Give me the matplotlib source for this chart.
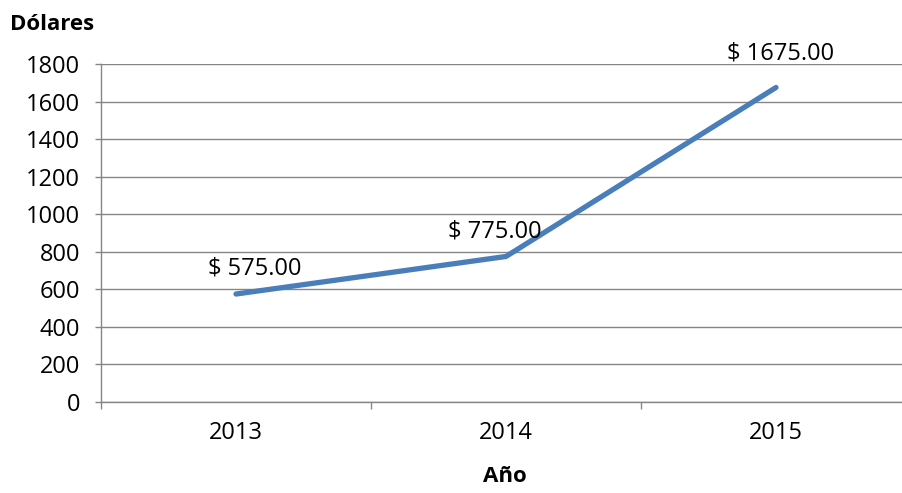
"""Line chart: Dólares por año"""
import numpy as np
import matplotlib
matplotlib.use('Agg')
import matplotlib.pyplot as plt

# Data
years = ['2013', '2014', '2015']
dollars = [575.0, 775.0, 1675.0]
y_ticks = [0, 200, 400, 600, 800, 1000, 1200, 1400, 1600, 1800]
# label offsets in pixels (dx, dy) relative to each point
label_offsets = [(19, 26), (-11, 25), (5, 34)]

plt.rcParams['font.family'] = ['Open Sans', 'DejaVu Sans']
grid_color = '#868686'
line_color = '#4A7EBB'
fs = 17

fig = plt.figure(figsize=(9.03, 4.93), dpi=100)
ax = fig.add_axes([101 / 903, 1 - 402 / 493, 810 / 903, 338 / 493])

x = np.arange(len(years))
ax.plot(x, dollars, color=line_color, linewidth=3.8, solid_capstyle='round', zorder=3)

for xi, val, (dx, dy) in zip(x, dollars, label_offsets):
    ax.annotate(f'$ {val:.2f}', xy=(xi, val), xytext=(dx * 0.72, dy * 0.72),
                textcoords='offset points', ha='center', va='center',
                fontsize=fs, zorder=4)

# y axis
ax.set_ylim(0, 1800)
ax.set_yticks(y_ticks)
ax.set_yticklabels([str(v) for v in y_ticks], fontsize=fs)
ax.yaxis.grid(True, color=grid_color, linewidth=1.0)
ax.tick_params(axis='y', length=4, width=1.0, color=grid_color, pad=11)

# x axis: category boundaries as ticks, labels centered
ax.set_xlim(-0.5, len(years) - 0.5)
ax.set_xticks(np.arange(len(years) + 1) - 0.5)
ax.set_xticklabels([])
ax.set_xticks(x, minor=True)
ax.set_xticklabels(years, minor=True, fontsize=fs)
ax.tick_params(axis='x', which='major', length=5, width=1.0, color=grid_color)
ax.tick_params(axis='x', which='minor', length=0, pad=14)

for side in ['top', 'right']:
    ax.spines[side].set_visible(False)
for side in ['left', 'bottom']:
    ax.spines[side].set_color(grid_color)
    ax.spines[side].set_linewidth(1.0)
ax.set_axisbelow(True)

fig.text(10 / 903, 1 - 25 / 493, 'Dólares', fontsize=fs - 1, fontweight='bold',
         ha='left', va='center')
fig.text(505 / 903, 1 - 476 / 493, 'Año', fontsize=fs - 1, fontweight='bold',
         ha='center', va='center')

fig.savefig('out.png', dpi=100)
